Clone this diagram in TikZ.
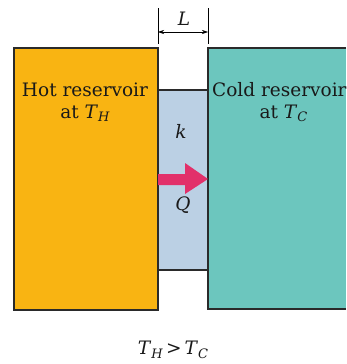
\documentclass[tikz,border=0pt]{standalone}
\usepackage{fontspec}
\setmainfont{DejaVu Serif}
\usetikzlibrary{arrows.meta}
\definecolor{hotc}{HTML}{F9B412}
\definecolor{coldc}{HTML}{6CC6BE}
\definecolor{slabc}{HTML}{BBD0E4}
\definecolor{arrc}{HTML}{E2306A}
\definecolor{edgec}{HTML}{2A2A2A}
\newcommand{\vr}[1]{\textit{#1}}
\newcommand{\vs}[2]{\textit{#1}\raisebox{-0.35ex}{\fontsize{13}{13}\selectfont\textit{#2}}}
\begin{document}
\begin{tikzpicture}[x=1pt,y=-1pt,
  box/.style={draw=edgec,line width=1.1pt},
  lbl/.style={font=\fontsize{18.5}{22}\selectfont,align=center,inner sep=0pt,text=black!90},
  tick/.style={draw=black,line width=0.6pt}]
\useasboundingbox (0,0) rectangle (346,364);
\path[fill=slabc,box] (158,90) rectangle (208,270);
\path[fill=hotc,box] (14,48) rectangle (158,310);
\path[fill=coldc] (208,48) rectangle (346,309);
\draw[box] (346,48) -- (208,48) -- (208,309) -- (346,309);
\node[lbl] (hot) at (85,102) {Hot reservoir\\at \vs{T}{H}};
\node[lbl,anchor=west] (cold) at (212,102) {Cold reservoir\\\hspace*{8pt}at \vs{T}{C}};
\node[lbl] (k) at (181,131) {\vr{k}};
\node[lbl] (q) at (183,205) {\vr{Q}};
\path[fill=arrc] (158,174) -- (185,174) -- (185,163) -- (208,179) -- (185,194) -- (185,185) -- (158,185) -- cycle;
\coordinate (t1a) at (158,8);
\coordinate (t1b) at (158,44);
\coordinate (t2a) at (208,8);
\coordinate (t2b) at (208,44);
\draw[tick] (t1a) -- (t1b);
\draw[tick] (t2a) -- (t2b);
\coordinate (la) at (158,32);
\coordinate (lb) at (208,32);
\draw[tick,{Stealth[length=6pt,width=4pt]}-{Stealth[length=6pt,width=4pt]}] (la) -- (lb);
\node[lbl] (L) at (184,19) {\vr{L}};
\node[lbl] (cmp) at (173,350) {\vs{T}{H}\,>\,\vs{T}{C}};
\end{tikzpicture}
\end{document}
